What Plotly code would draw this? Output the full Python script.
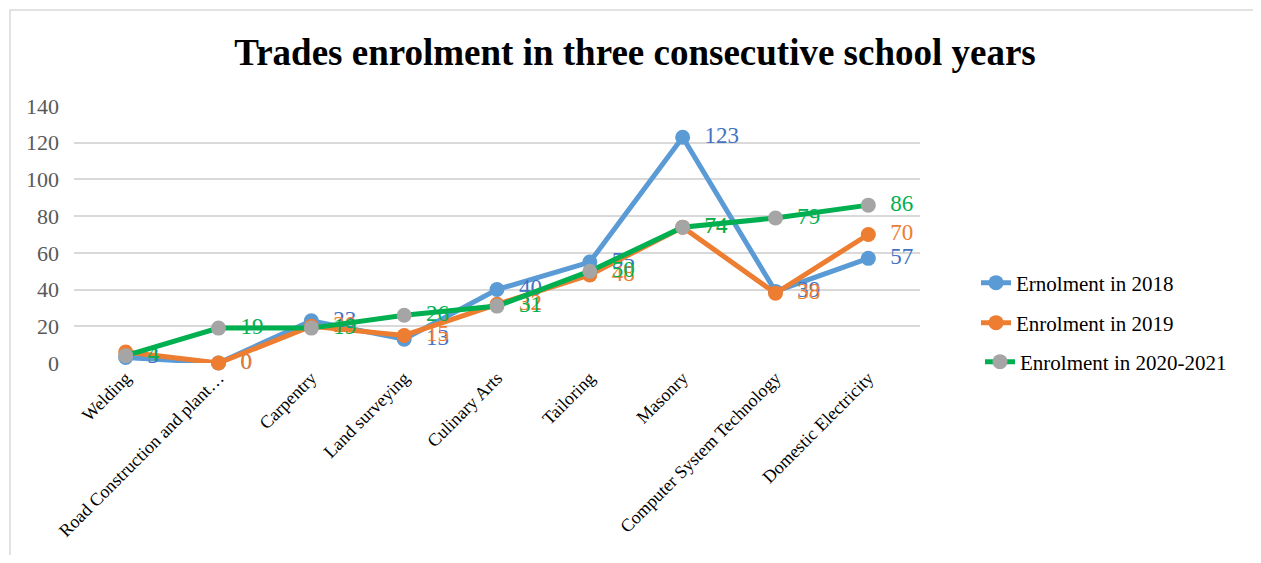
import plotly.graph_objects as go

categories = ["Welding", "Road Construction and plant…", "Carpentry", "Land surveying",
              "Culinary Arts", "Tailoring", "Masonry", "Computer System Technology",
              "Domestic Electricity"]
enrol_2018 = [3, 0, 23, 13, 40, 55, 123, 39, 57]
enrol_2019 = [6, 0, 20, 15, 32, 48, 74, 38, 70]
enrol_2020 = [4, 19, 19, 26, 31, 50, 74, 79, 86]
labels_2019 = ["", "0", "20", "15", "32", "48", "74", "38", "70"]

series = [
    ("Ernolment in 2018", enrol_2018, [str(v) for v in enrol_2018], "#5B9BD5", "#5B9BD5", "#4472C4", "legend"),
    ("Enrolment in 2019", enrol_2019, labels_2019, "#ED7D31", "#ED7D31", "#ED7D31", "legend2"),
    ("Enrolment in 2020-2021", enrol_2020, [str(v) for v in enrol_2020], "#00B050", "#A5A5A5", "#00B050", "legend3"),
]

fig = go.Figure()
for name, vals, labs, lc, mc, tc, lg in series:
    fig.add_trace(go.Scatter(
        x=categories, y=vals, name=name, mode="lines+markers+text",
        text=["  " + t if t else "" for t in labs], textposition="middle right",
        textfont=dict(family="Liberation Serif", size=23, color=tc),
        line=dict(color=lc, width=5), marker=dict(color=mc, size=15),
        cliponaxis=False, legend=lg, showlegend=True,
    ))

# page body adds an 8px offset; work in figure coordinates = reference - 8
OFF = 8
W, H = 1261 - 2 * OFF, 563 - 2 * OFF
L = 74 - OFF
R = W - (920 - OFF)
T = 106 - OFF
B = H - (363 - OFF)
pw, ph = W - L - R, H - T - B

def px(x):
    return (x - OFF - L) / pw

def py(y):
    return (H - B - (y - OFF)) / ph

legend_common = dict(font=dict(family="Liberation Serif", size=21, color="#000000"),
                     bgcolor="rgba(0,0,0,0)", xanchor="left", yanchor="middle")
fig.update_layout(
    width=W, height=H,
    margin=dict(l=L, r=R, t=T, b=B, autoexpand=False),
    paper_bgcolor="white", plot_bgcolor="white",
    title=dict(text="<b>Trades enrolment in three consecutive school years</b>",
               font=dict(family="Liberation Serif", size=37, color="#000000"),
               x=(635 - OFF) / W, xanchor="center", y=1 - (52 - OFF) / H, yanchor="middle"),
    legend=dict(x=px(976), y=py(283), **legend_common),
    legend2=dict(x=px(976), y=py(323), **legend_common),
    legend3=dict(x=px(980), y=py(362), **legend_common),
    xaxis=dict(tickangle=-45, tickfont=dict(family="Liberation Serif", size=18, color="#000000"),
               showgrid=False, showline=False, ticks="", automargin=False),
    yaxis=dict(range=[0, 140], dtick=20, showgrid=True, gridcolor="#D9D9D9", gridwidth=1.5,
               zeroline=False, showline=False, ticks="", ticklabelstandoff=14, automargin=False,
               tickfont=dict(family="Liberation Serif", size=22, color="#595959")),
    shapes=[dict(type="rect", xref="paper", yref="paper",
                 x0=px(10), x1=px(1257), y0=py(620), y1=py(10),
                 line=dict(color="#D9D9D9", width=1.5), layer="below")],
)

fig.write_html("out.html")
